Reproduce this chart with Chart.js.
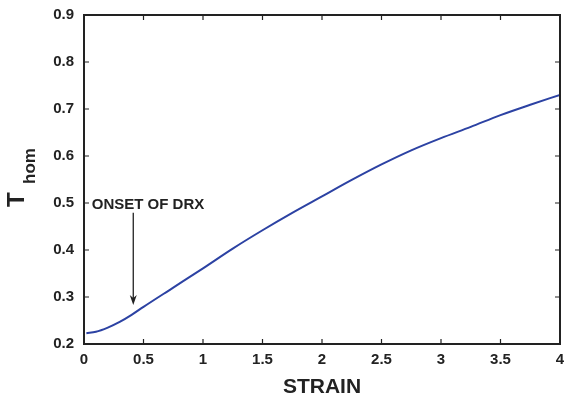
<!DOCTYPE html>
<html>
<head>
<meta charset="utf-8">
<script src="https://cdn.jsdelivr.net/npm/chart.js@4"></script>
<style>
  html, body { margin: 0; padding: 0; background: #fff; }
  #wrap { width: 564px; height: 399px; }
</style>
</head>
<body>
<div id="wrap"><canvas id="thomChart" width="564" height="399"></canvas></div>
<script>
  // strain vs homologous temperature
  var strain = [0.02, 0.1, 0.2, 0.3, 0.4, 0.5, 0.75, 1.0, 1.25, 1.5, 1.75, 2.0, 2.25, 2.5, 2.75, 3.0, 3.25, 3.5, 3.75, 4.0];
  var thom = [0.223, 0.226, 0.235, 0.247, 0.262, 0.279, 0.320, 0.361, 0.403, 0.442, 0.479, 0.514, 0.549, 0.582, 0.612, 0.638, 0.662, 0.687, 0.709, 0.730];
  var xTicks = [0, 0.5, 1, 1.5, 2, 2.5, 3, 3.5, 4];
  var yTicks = [0.2, 0.3, 0.4, 0.5, 0.6, 0.7, 0.8, 0.9];

  // annotation: label + arrow (data units)
  var onsetLabel = 'ONSET OF DRX';
  var onsetStrain = 0.414;
  var arrowFrom = 0.479;
  var arrowTo = 0.283;
  var labelAt = [0.065, 0.496];

  var FONT = '"Liberation Sans", Arial, Helvetica, sans-serif';
  var INK = '#222';

  var framePlugin = {
    id: 'frame',
    afterDraw: function(chart) {
      var ctx = chart.ctx, a = chart.chartArea;
      var xs = chart.scales.x, ys = chart.scales.y;
      ctx.save();
      // inward ticks on all four sides
      ctx.strokeStyle = INK;
      ctx.lineWidth = 1.2;
      ctx.beginPath();
      xTicks.forEach(function(v) {
        var px = xs.getPixelForValue(v);
        ctx.moveTo(px, a.bottom); ctx.lineTo(px, a.bottom - 5);
        ctx.moveTo(px, a.top); ctx.lineTo(px, a.top + 5);
      });
      yTicks.forEach(function(v) {
        var py = ys.getPixelForValue(v);
        ctx.moveTo(a.left, py); ctx.lineTo(a.left + 5, py);
        ctx.moveTo(a.right, py); ctx.lineTo(a.right - 5, py);
      });
      ctx.stroke();
      // box
      ctx.lineWidth = 2;
      ctx.strokeRect(a.left, a.top, a.right - a.left, a.bottom - a.top);

      // annotation
      ctx.fillStyle = INK;
      ctx.font = 'bold 15px ' + FONT;
      ctx.textAlign = 'left';
      ctx.textBaseline = 'middle';
      ctx.fillText(onsetLabel, xs.getPixelForValue(labelAt[0]), ys.getPixelForValue(labelAt[1]));
      var ax = xs.getPixelForValue(onsetStrain);
      var y0 = ys.getPixelForValue(arrowFrom), y1 = ys.getPixelForValue(arrowTo);
      ctx.lineWidth = 1.3;
      ctx.beginPath();
      ctx.moveTo(ax, y0); ctx.lineTo(ax, y1 - 4);
      ctx.stroke();
      ctx.beginPath();
      ctx.moveTo(ax, y1);
      ctx.lineTo(ax - 3.5, y1 - 10);
      ctx.lineTo(ax, y1 - 7);
      ctx.lineTo(ax + 3.5, y1 - 10);
      ctx.closePath();
      ctx.fill();

      // y title: T with subscript hom
      ctx.translate(24, 207);
      ctx.rotate(-Math.PI / 2);
      ctx.textAlign = 'left';
      ctx.textBaseline = 'alphabetic';
      ctx.font = 'bold 24px ' + FONT;
      ctx.fillText('T', 0, 0);
      ctx.font = 'bold 17px ' + FONT;
      ctx.fillText('hom', 23, 11);
      ctx.restore();
    }
  };

  var ctx = document.getElementById('thomChart').getContext('2d');
  var thomChart = new Chart(ctx, {
    type: 'line',
    data: {
      datasets: [{
        data: strain.map(function(s, i) { return { x: s, y: thom[i] }; }),
        borderColor: 'rgb(44,66,163)',
        borderWidth: 2,
        pointRadius: 0,
        cubicInterpolationMode: 'monotone',
        fill: false
      }]
    },
    options: {
      responsive: false,
      animation: false,
      layout: { padding: { top: 15, right: 4, left: 0, bottom: 0 } },
      plugins: { legend: { display: false }, tooltip: { enabled: false } },
      scales: {
        x: {
          type: 'linear',
          min: 0, max: 4,
          afterFit: function(s) { s.height = 55; s.paddingLeft = 0; s.paddingRight = 0; },
          afterBuildTicks: function(s) { s.ticks = xTicks.map(function(v) { return { value: v }; }); },
          grid: { display: false, drawTicks: false },
          border: { display: false },
          ticks: {
            padding: 7,
            color: INK,
            font: { family: FONT, size: 15, weight: 'bold' },
            maxRotation: 0,
            callback: function(v) { return String(v); }
          },
          title: {
            display: true,
            text: 'STRAIN',
            color: INK,
            font: { family: FONT, size: 21, weight: 'bold' },
            padding: { top: 4, bottom: -1 }
          }
        },
        y: {
          min: 0.2, max: 0.9,
          afterFit: function(s) { s.width = 84; s.paddingTop = 0; s.paddingBottom = 0; },
          afterBuildTicks: function(s) { s.ticks = yTicks.map(function(v) { return { value: v }; }); },
          grid: { display: false, drawTicks: false },
          border: { display: false },
          ticks: {
            padding: 10,
            color: INK,
            font: { family: FONT, size: 15, weight: 'bold' },
            callback: function(v) { return v.toFixed(1); }
          }
        }
      }
    },
    plugins: [framePlugin]
  });
</script>
</body>
</html>
